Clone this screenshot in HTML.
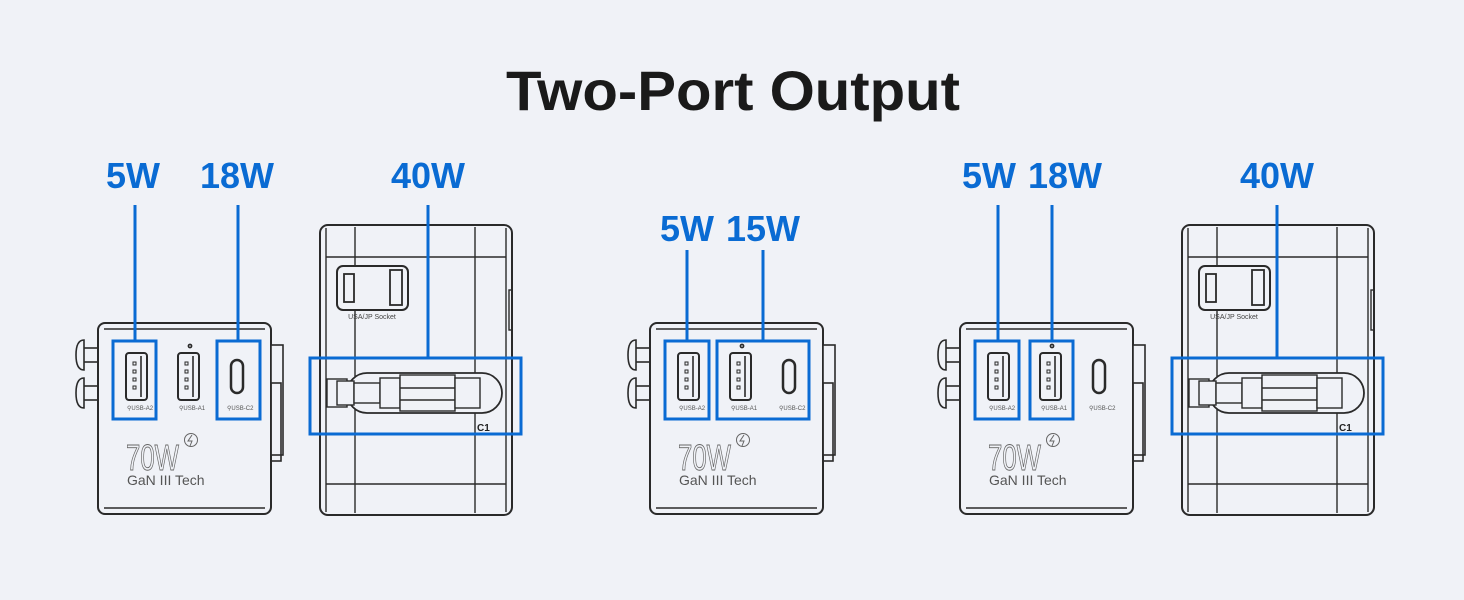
<!DOCTYPE html>
<html><head><meta charset="utf-8"><style>
html,body{margin:0;padding:0;background:#f0f2f7;}
svg{display:block}
text{font-family:"Liberation Sans",sans-serif}
</style></head><body>
<svg width="1464" height="600" viewBox="0 0 1464 600" xmlns="http://www.w3.org/2000/svg">
<rect width="1464" height="600" fill="#f0f2f7"/>
<text x="733" y="110" text-anchor="middle" font-size="56" font-weight="bold" fill="#1a1a1a" textLength="454" lengthAdjust="spacingAndGlyphs">Two-Port Output</text>

<defs>
<g id="pins" fill="#f0f2f7" stroke="#2a2a2a" stroke-width="1.6">
  <rect x="83" y="348" width="15" height="14"/>
  <path d="M84 340 Q76 340 76 355 Q76 370 84 370 Z"/>
  <rect x="83" y="386" width="15" height="14"/>
  <path d="M84 378 Q76 378 76 393 Q76 408 84 408 Z"/>
</g>
<g id="frontbody" fill="none" stroke="#2a2a2a" stroke-width="1.6">
  <rect x="98" y="323" width="173" height="191" rx="7" fill="#f0f2f7" stroke-width="2"/>
  <line x1="104" y1="329" x2="265" y2="329"/>
  <line x1="104" y1="508" x2="265" y2="508"/>
  <rect x="271" y="345" width="12" height="110" fill="#f0f2f7"/>
  <rect x="271" y="383" width="10" height="78"/>
  <rect x="126" y="353" width="21" height="47" rx="3" stroke-width="2"/>
  <line x1="141" y1="356" x2="141" y2="397"/>
  <rect x="133" y="362" width="3" height="3" stroke-width="1"/>
  <rect x="133" y="370" width="3" height="3" stroke-width="1"/>
  <rect x="133" y="378" width="3" height="3" stroke-width="1"/>
  <rect x="133" y="386" width="3" height="3" stroke-width="1"/>
  <rect x="178" y="353" width="21" height="47" rx="3" stroke-width="2"/>
  <line x1="193" y1="356" x2="193" y2="397"/>
  <rect x="185" y="362" width="3" height="3" stroke-width="1"/>
  <rect x="185" y="370" width="3" height="3" stroke-width="1"/>
  <rect x="185" y="378" width="3" height="3" stroke-width="1"/>
  <rect x="185" y="386" width="3" height="3" stroke-width="1"/>
  <circle cx="190" cy="346" r="1.6"/>
  <rect x="231" y="360" width="12" height="33" rx="6" stroke-width="2.5"/>
</g>
<g id="frontlabels">
  <text x="127" y="410" font-size="6" fill="#555">⚲USB-A2</text>
  <text x="179" y="410" font-size="6" fill="#555">⚲USB-A1</text>
  <text x="227" y="410" font-size="6" fill="#555">⚲USB-C2</text>
  <text x="126" y="470" font-size="36" fill="none" stroke="#666" stroke-width="0.9" textLength="53" lengthAdjust="spacingAndGlyphs">70W</text>
  <circle cx="191" cy="440" r="6.5" fill="none" stroke="#666" stroke-width="1"/>
  <path d="M192 435 L188 441 L192 441 L190 446" fill="none" stroke="#666" stroke-width="1"/>
  <text x="127" y="485" font-size="14" fill="#555">GaN III Tech</text>
</g>
<g id="side" fill="none" stroke="#2a2a2a" stroke-width="1.4">
  <rect x="320" y="225" width="192" height="290" rx="8" fill="#f0f2f7" stroke-width="2"/>
  <line x1="326" y1="228" x2="326" y2="512"/>
  <line x1="506" y1="228" x2="506" y2="512"/>
  <line x1="355" y1="227" x2="355" y2="513"/>
  <line x1="475" y1="227" x2="475" y2="513"/>
  <line x1="326" y1="257" x2="506" y2="257"/>
  <line x1="326" y1="484" x2="506" y2="484"/>
  <rect x="337" y="266" width="71" height="44" rx="6" fill="#f0f2f7" stroke-width="2"/>
  <rect x="344" y="274" width="10" height="28" stroke-width="1.8"/>
  <rect x="390" y="270" width="12" height="35" stroke-width="1.8"/>
  <rect x="347" y="373" width="155" height="40" rx="20" fill="#f0f2f7" stroke-width="1.8"/>
  <rect x="327" y="379" width="20" height="28"/>
  <rect x="337" y="381" width="17" height="24" fill="#f0f2f7"/>
  <rect x="354" y="383" width="26" height="20" fill="#f0f2f7"/>
  <rect x="380" y="378" width="20" height="30" fill="#f0f2f7"/>
  <rect x="400" y="375" width="55" height="36" fill="#f0f2f7"/>
  <rect x="455" y="378" width="25" height="30" fill="#f0f2f7"/>
  <line x1="400" y1="388" x2="455" y2="388"/>
  <line x1="400" y1="400" x2="455" y2="400"/>
  <rect x="509" y="290" width="3" height="40"/>
</g>
<g id="sidetext">
  <text x="372" y="319" font-size="7" text-anchor="middle" fill="#444">USA/JP Socket</text>
  <text x="477" y="431" font-size="10" font-weight="bold" fill="#222">C1</text>
</g>
</defs>

<use href="#pins"/><use href="#frontbody"/><use href="#frontlabels"/>
<use href="#side"/><use href="#sidetext"/>
<g transform="translate(552,0)"><use href="#pins"/><use href="#frontbody"/><use href="#frontlabels"/></g>
<g transform="translate(862,0)"><use href="#pins"/><use href="#frontbody"/><use href="#frontlabels"/><use href="#side"/><use href="#sidetext"/></g>

<g fill="none" stroke="#0a6bd3" stroke-width="3">
  <rect x="113" y="341" width="43" height="78"/>
  <rect x="217" y="341" width="43" height="78"/>
  <rect x="310" y="358" width="211" height="76"/>
  <line x1="135" y1="205" x2="135" y2="341"/>
  <line x1="238" y1="205" x2="238" y2="341"/>
  <line x1="428" y1="205" x2="428" y2="358"/>

  <rect x="665" y="341" width="44" height="78"/>
  <rect x="717" y="341" width="92" height="78"/>
  <line x1="687" y1="250" x2="687" y2="341"/>
  <line x1="763" y1="250" x2="763" y2="341"/>

  <rect x="975" y="341" width="44" height="78"/>
  <rect x="1030" y="341" width="43" height="78"/>
  <rect x="1172" y="358" width="211" height="76"/>
  <line x1="998" y1="205" x2="998" y2="341"/>
  <line x1="1052" y1="205" x2="1052" y2="341"/>
  <line x1="1277" y1="205" x2="1277" y2="358"/>
</g>
<g fill="#0a6bd3" font-size="36" font-weight="bold" text-anchor="middle">
  <text x="133" y="188">5W</text>
  <text x="237" y="188">18W</text>
  <text x="428" y="188">40W</text>
  <text x="687" y="241">5W</text>
  <text x="763" y="241">15W</text>
  <text x="989" y="188">5W</text>
  <text x="1065" y="188">18W</text>
  <text x="1277" y="188">40W</text>
</g>
</svg>
</body></html>
